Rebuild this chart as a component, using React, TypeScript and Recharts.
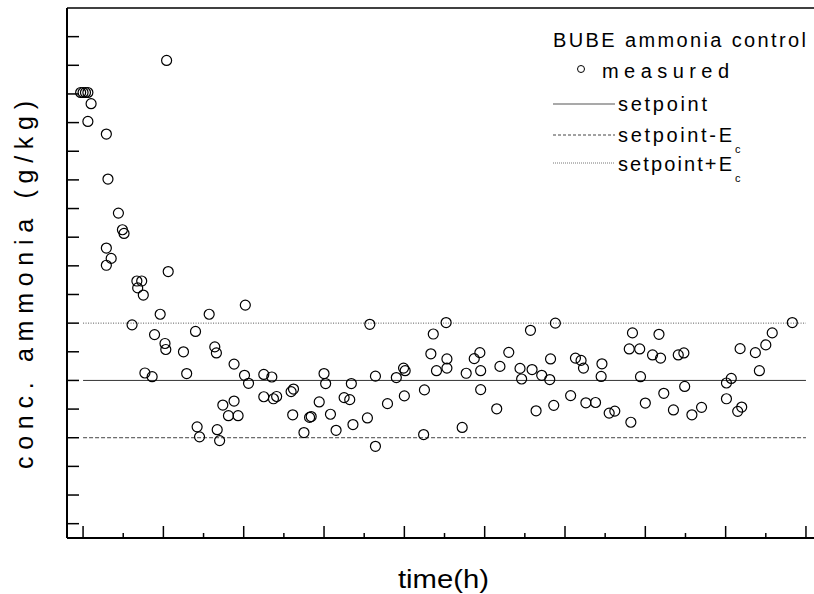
import { ScatterChart, Scatter, XAxis, YAxis, ReferenceLine, Legend } from "recharts";

// time (h) and measured ammonia concentration
const time = [
  -0.3, 0.0, 0.3, 0.6, 0.6, 1.0, 2.9, 2.9, 2.9, 3.1, 3.5, 4.4, 4.9, 5.1, 6.1, 6.7, 6.8, 7.3, 7.5, 7.7,
  8.6, 8.9, 9.6, 10.2, 10.3, 10.4, 10.6, 12.5, 12.9, 14.0, 14.2, 14.5, 15.7, 16.4, 16.6, 16.7, 17.0, 17.4, 18.1, 18.8,
  18.8, 19.3, 20.1, 20.2, 20.6, 22.5, 22.5, 23.5, 23.7, 24.1, 25.9, 26.2, 26.1, 27.5, 28.2, 28.4, 29.4, 30.0, 30.2, 30.8,
  31.5, 32.5, 33.2, 33.4, 33.6, 35.4, 35.7, 36.4, 36.4, 37.9, 39.0, 39.9, 40.1, 40.0, 42.4, 42.5, 43.3, 43.6, 44.0, 45.2,
  45.3, 45.3, 47.2, 47.7, 48.7, 49.4, 49.5, 49.5, 51.5, 51.9, 53.0, 54.4, 54.6, 55.7, 55.9, 56.4, 57.1, 58.1, 58.2, 58.6,
  58.8, 60.7, 61.3, 62.0, 62.3, 62.6, 63.8, 64.5, 64.6, 65.5, 66.2, 68.0, 68.2, 68.4, 69.3, 69.4, 70.0, 70.9, 71.7, 71.9,
  72.3, 73.5, 74.1, 74.8, 74.9, 75.8, 77.0, 80.1, 80.1, 80.7, 81.5, 82.0, 81.8, 83.7, 84.2, 85.0, 85.8, 88.3,
];
const conc = [
  15.05, 15.05, 15.05, 15.05, 14.04, 14.66, 13.6, 9.62, 9.02, 12.03, 9.26, 10.84, 10.26, 10.13, 6.94, 8.47, 8.23, 8.47, 7.98, 5.26,
  5.13, 6.6, 7.31, 6.29, 6.08, 16.17, 8.8, 6.0, 5.24, 6.71, 3.38, 3.03, 7.31, 6.17, 5.96, 3.28, 2.9, 4.14, 3.77, 5.57,
  4.28, 3.77, 5.18, 7.63, 4.9, 5.21, 4.43, 5.12, 4.36, 4.44, 4.61, 4.7, 3.8, 3.18, 3.71, 3.74, 4.25, 5.24, 4.89, 3.82,
  3.26, 4.4, 4.33, 4.89, 3.46, 3.69, 6.96, 2.7, 5.15, 4.19, 5.1, 5.43, 5.34, 4.46, 3.11, 4.67, 5.93, 6.62, 5.34, 7.02,
  5.43, 5.75, 3.36, 5.25, 5.76, 5.97, 5.34, 4.68, 4.01, 5.49, 5.98, 5.42, 5.05, 6.75, 5.38, 3.94, 5.18, 5.03, 5.75, 4.13,
  7.0, 4.47, 5.78, 5.7, 5.43, 4.22, 4.23, 5.14, 5.58, 3.86, 3.93, 6.1, 3.54, 6.66, 6.1, 5.13, 4.21, 5.89, 6.61, 5.78,
  4.55, 3.97, 5.89, 5.96, 4.79, 3.8, 4.06, 4.36, 4.91, 5.07, 3.92, 4.07, 6.11, 5.97, 5.34, 6.24, 6.66, 7.02,
];

const setpoint = 5;
const ec = 2;
const lineStart = 0;
const lineEnd = 90;

const xTicks = [0, 5, 10, 15, 20, 25, 30, 35, 40, 45, 50, 55, 60, 65, 70, 75, 80, 85, 90];
const yTicks = [0, 1, 2, 3, 4, 5, 6, 7, 8, 9, 10, 11, 12, 13, 14, 15, 16, 17];

const measured = time.map((t, i) => ({ t, c: conc[i] }));

const font = "'Liberation Sans', Arial, Helvetica, sans-serif";

// inward tick marks, no tick labels
const BottomTick = (p: any) => {
  const len = p.payload.value % 10 === 0 ? 12 : 5;
  return <line x1={p.x} x2={p.x} y1={p.y} y2={p.y - len} stroke="#000" strokeWidth={1.5} />;
};
const TopTick = (p: any) => (
  <line x1={p.x} x2={p.x} y1={p.y} y2={p.y + 4} stroke="#000" strokeWidth={1.2} />
);
const LeftTick = (p: any) => (
  <line x1={p.x} x2={p.x + 12} y1={p.y} y2={p.y} stroke="#000" strokeWidth={1.5} />
);

const Ring = (p: any) => (
  <circle cx={p.cx} cy={p.cy} r={5} fill="none" stroke="#000" strokeWidth={1.2} />
);

const YTitle = () => (
  <text
    x={33}
    y={285}
    transform="rotate(-90 33 285)"
    textAnchor="middle"
    fontSize={25}
    fontFamily={font}
    fill="#000"
    textLength={368}
    lengthAdjust="spacing"
  >
    conc. ammonia (g/kg)
  </text>
);

const XTitle = () => (
  <text
    x={443.5}
    y={588}
    textAnchor="middle"
    fontSize={26}
    fontFamily={font}
    fill="#000"
    textLength={91}
    lengthAdjust="spacingAndGlyphs"
  >
    time(h)
  </text>
);

function LegendBox() {
  const t = { fontSize: 20, fontFamily: font, fill: "#000" };
  const sub = { fontSize: 11, fontFamily: font, fill: "#000" };
  return (
    <svg width={269} height={170} style={{ display: "block", overflow: "visible" }}>
      <text x={8} y={24.7} {...t} textLength={253} lengthAdjust="spacing">BUBE ammonia control</text>
      <circle cx={36} cy={47} r={3.5} fill="none" stroke="#000" strokeWidth={1} />
      <text x={57} y={56} {...t} textLength={127} lengthAdjust="spacing">measured</text>
      <line x1={8} x2={70} y1={82} y2={82} stroke="#555" strokeWidth={1.2} />
      <text x={73} y={89} {...t} textLength={89} lengthAdjust="spacing">setpoint</text>
      <line x1={8} x2={70} y1={113} y2={113} stroke="#444" strokeWidth={1} strokeDasharray="3 2" />
      <text x={73} y={120} {...t} textLength={114} lengthAdjust="spacing">setpoint-E</text>
      <text x={190} y={131} {...sub}>c</text>
      <line x1={8} x2={70} y1={141} y2={141} stroke="#777" strokeWidth={1} strokeDasharray="1 1" />
      <text x={73} y={149} {...t} textLength={114} lengthAdjust="spacing">setpoint+E</text>
      <text x={190} y={160} {...sub}>c</text>
    </svg>
  );
}

export default function App() {
  return (
    <div style={{ position: "absolute", left: 0, top: 0, background: "#fff" }}>
      <ScatterChart width={814} height={594} margin={{ top: 7, right: 0, bottom: 55, left: 66 }}>
        <XAxis
          dataKey="t"
          type="number"
          domain={[-2, 91]}
          allowDataOverflow
          ticks={xTicks}
          interval={0}
          height={1}
          tickSize={0}
          tickMargin={0}
          tickLine={false}
          tick={BottomTick}
          axisLine={{ stroke: "#000", strokeWidth: 2 }}
          label={<XTitle />}
        />
        <XAxis
          xAxisId="top"
          orientation="top"
          type="number"
          domain={[-2, 91]}
          allowDataOverflow
          ticks={xTicks}
          interval={0}
          height={1}
          tickSize={0}
          tickMargin={0}
          tickLine={false}
          tick={TopTick}
          axisLine={{ stroke: "#000", strokeWidth: 1.5 }}
        />
        <YAxis
          dataKey="c"
          type="number"
          domain={[-0.5, 18]}
          allowDataOverflow
          ticks={yTicks}
          interval={0}
          width={1}
          tickSize={0}
          tickMargin={0}
          tickLine={false}
          tick={LeftTick}
          axisLine={{ stroke: "#000", strokeWidth: 2 }}
          label={<YTitle />}
        />
        <ReferenceLine
          segment={[{ x: lineStart, y: setpoint }, { x: lineEnd, y: setpoint }]}
          stroke="#333"
          strokeWidth={1}
        />
        <ReferenceLine
          segment={[{ x: lineStart, y: setpoint - ec }, { x: lineEnd, y: setpoint - ec }]}
          stroke="#444"
          strokeWidth={1}
          strokeDasharray="4 2"
        />
        <ReferenceLine
          segment={[{ x: lineStart, y: setpoint + ec }, { x: lineEnd, y: setpoint + ec }]}
          stroke="#555"
          strokeWidth={1}
          strokeDasharray="1 1.5"
        />
        <Scatter name="measured" data={measured} shape={Ring} isAnimationActive={false} />
        <Legend
          layout="vertical"
          align="center"
          verticalAlign="middle"
          content={<LegendBox />}
          wrapperStyle={{ left: 545, top: 22, width: 269, height: 170 }}
        />
      </ScatterChart>
    </div>
  );
}
